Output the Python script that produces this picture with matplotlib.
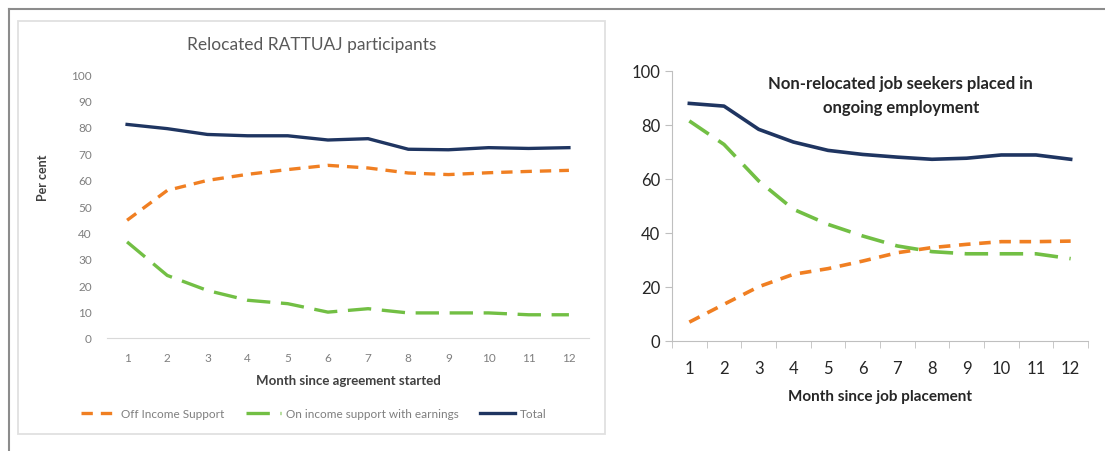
import numpy as np
import matplotlib
matplotlib.use("Agg")
import matplotlib.pyplot as plt
from matplotlib.lines import Line2D
from matplotlib.patches import Rectangle

plt.rcParams["font.family"] = ["Lato", "DejaVu Sans"]

months = list(range(1, 13))

# Left panel: relocated RATTUAJ participants (per cent)
reloc_off = [44.6, 55.9, 59.7, 62.0, 63.8, 65.4, 64.4, 62.5, 61.9, 62.6, 63.1, 63.5]
reloc_on = [36.4, 23.7, 18.0, 14.3, 13.0, 9.8, 11.1, 9.5, 9.5, 9.5, 8.8, 8.8]
reloc_total = [80.9, 79.3, 77.1, 76.6, 76.6, 75.0, 75.5, 71.5, 71.3, 72.1, 71.8, 72.1]

# Right panel: non-relocated job seekers (per cent)
nonrel_off = [7.0, 13.6, 20.1, 24.7, 26.8, 29.6, 32.7, 34.6, 35.8, 36.8, 36.8, 37.0]
nonrel_on = [81.5, 72.8, 59.3, 48.8, 43.2, 38.9, 35.2, 33.1, 32.3, 32.3, 32.3, 30.5]
nonrel_total = [88.0, 87.0, 78.4, 73.7, 70.6, 69.1, 68.1, 67.3, 67.7, 68.9, 68.9, 67.3]

labels = ["Off Income Support", "On income support with earnings", "Total"]

ORANGE = "#f07f22"
GREEN = "#72bf44"
NAVY = "#1f3561"
GRAY = "#7f7f7f"

fig = plt.figure(figsize=(11.05, 4.52), dpi=100)
W, H = 1105, 452

def fx(px):
    return px / W

def fy(py):
    return 1 - py / H

# outer frame and left panel box
fig.add_artist(Line2D([fx(9), 1], [fy(10), fy(10)], color="#8c8c8c", lw=1.5))
fig.add_artist(Line2D([fx(9), fx(9)], [fy(10), 0], color="#8c8c8c", lw=1.5))
fig.add_artist(Rectangle((fx(18), fy(435)), fx(605 - 18), (435 - 22) / H,
                         fill=False, ec="#e0e0e0", lw=1.3))

# ---- left panel ----
ax1 = fig.add_axes([fx(107), fy(339), fx(589 - 107), (339 - 75) / H])
ax1.plot(months, reloc_off, color=ORANGE, lw=2.4, dashes=(3.4, 2.4), label=labels[0])
ax1.plot(months, reloc_on, color=GREEN, lw=2.4, dashes=(7, 3.2), label=labels[1])
ax1.plot(months, reloc_total, color=NAVY, lw=2.4, label=labels[2])
ax1.set_xlim(0.5, 12.5)
ax1.set_ylim(0, 100)
ax1.set_xticks(months)
ax1.set_yticks(range(0, 101, 10))
for s in ["top", "right", "left"]:
    ax1.spines[s].set_visible(False)
ax1.spines["bottom"].set_color("#d9d9d9")
ax1.tick_params(length=0, labelsize=8.5, colors=GRAY)
ax1.tick_params(axis="x", pad=10)
ax1.tick_params(axis="y", pad=11)
ax1.set_title("Relocated RATTUAJ participants", fontsize=12.5, color="#595959", pad=18,
              x=(312 - 107) / (589 - 107))
ax1.set_ylabel("Per cent", fontsize=9, fontweight="bold", color="#404040")
ax1.yaxis.set_label_coords((49 - 107) / (589 - 107), (339 - 178) / (339 - 75))
ax1.set_xlabel("Month since agreement started", fontsize=9.5, fontweight="bold",
               color="#404040", labelpad=8)
ax1.legend(loc="center", bbox_to_anchor=(fx(314), fy(415)), bbox_transform=fig.transFigure,
           ncol=3, frameon=False, fontsize=8.5, labelcolor=GRAY, handlelength=3.0,
           columnspacing=1.8, handletextpad=0.4)

# ---- right panel ----
ax2 = fig.add_axes([fx(672), fy(342), fx(1088 - 672), (342 - 72) / H])
ax2.plot(months, nonrel_off, color=ORANGE, lw=2.6, dashes=(3.2, 2.4))
ax2.plot(months, nonrel_on, color=GREEN, lw=2.6, dashes=(6.5, 3.2))
ax2.plot(months, nonrel_total, color=NAVY, lw=2.6)
ax2.set_xlim(0.5, 12.5)
ax2.set_ylim(0, 100)
ax2.set_xticks(months)
ax2.set_xticks(np.arange(0.5, 13, 1), minor=True)
ax2.set_yticks(range(0, 101, 20))
for s in ["top", "right"]:
    ax2.spines[s].set_visible(False)
for s in ["left", "bottom"]:
    ax2.spines[s].set_color("#bfbfbf")
ax2.tick_params(axis="x", which="major", length=0, labelsize=12, colors="#262626", pad=14)
ax2.tick_params(axis="x", which="minor", length=5, color="#bfbfbf")
ax2.tick_params(axis="y", length=5, color="#bfbfbf", labelsize=12, labelcolor="#262626")
ax2.set_xlabel("Month since job placement", fontsize=11, fontweight="bold",
               color="#262626", labelpad=9)
ax2.text(0.55, 0.985, "Non-relocated job seekers placed in\nongoing employment",
         transform=ax2.transAxes, ha="center", va="top", fontsize=12, fontweight="bold",
         color="#262626", linespacing=1.65)

fig.savefig("out.png", dpi=100)
